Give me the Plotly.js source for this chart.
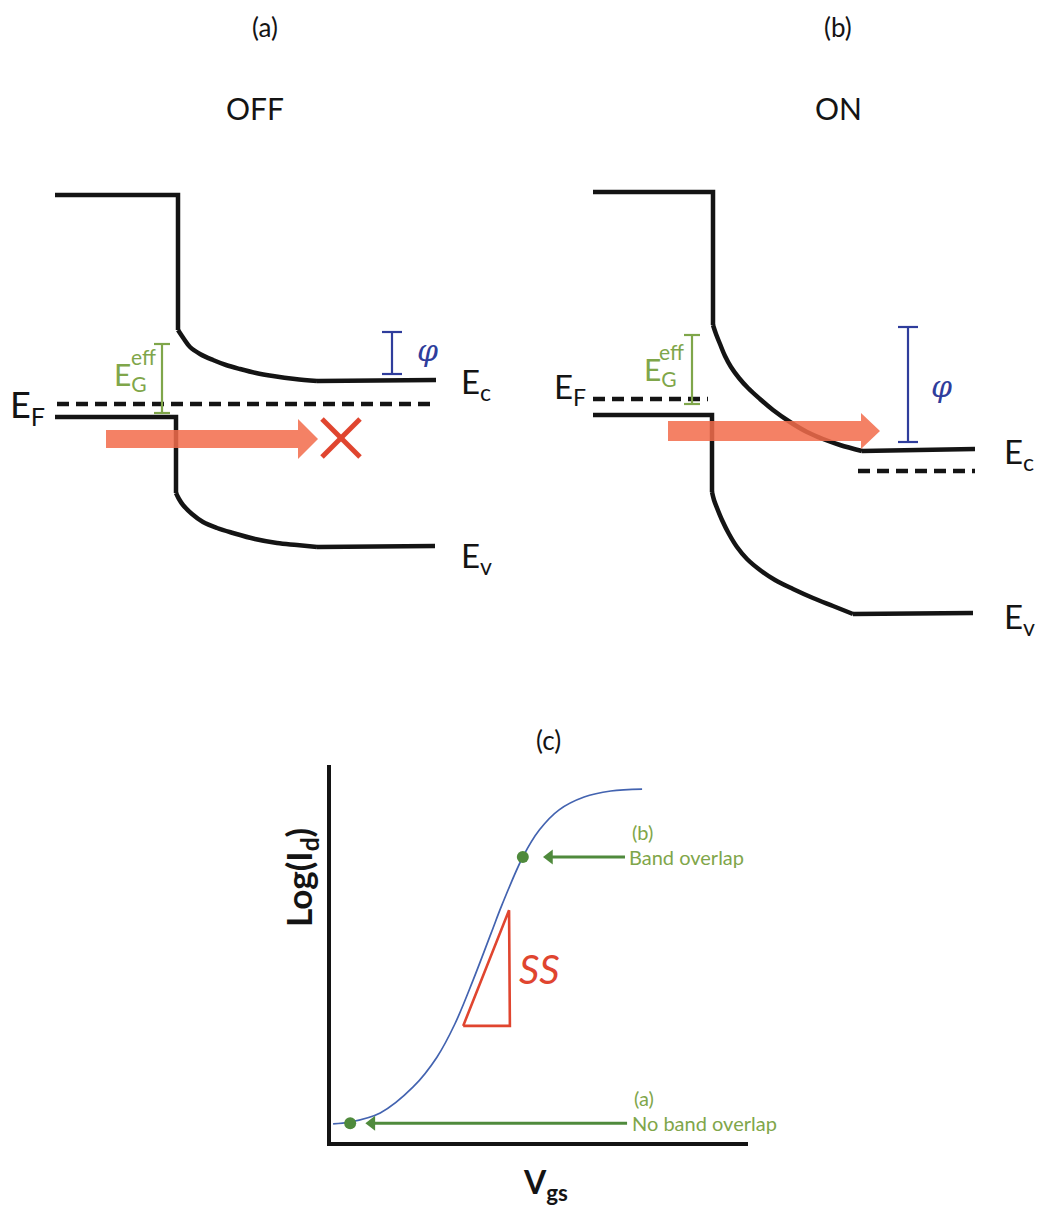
<!DOCTYPE html>
<html>
<head>
<meta charset="utf-8">
<script src="https://cdn.plot.ly/plotly-3.0.1.min.js"></script>
<style>
  html, body { margin: 0; padding: 0; background: #fff; }
  #fig { width: 1039px; height: 1210px; }
</style>
</head>
<body>
<div id="fig"></div>
<script>
// ---------- Band diagrams (a) OFF and (b) ON, in drawing units (y grows downward) ----------
// (a) conduction-band edge: source plateau, step, band bending, channel plateau
const offEcX = [55, 178, 178, 184, 190, 200, 213, 226, 240, 256, 273, 295, 317, 436];
const offEcY = [195, 195, 330, 339, 347, 354, 360, 365, 369, 373, 376, 379, 381, 380];
// (a) valence-band edge
const offEvX = [55, 176, 176, 179, 183, 192, 203, 217, 233, 255, 277, 297, 317, 435];
const offEvY = [417, 417, 493, 499, 505, 514, 522, 528, 533, 539, 543, 545, 547, 546];
// (a) Fermi level (dashed)
const offEfX = [57, 436];
const offEfY = [404, 404];

// (b) conduction-band edge
const onEcX = [593, 713, 713, 716, 720, 725, 731, 739, 748, 760, 773, 790, 807, 823, 840, 862, 975];
const onEcY = [192, 192, 325, 334, 344, 356, 367, 378, 388, 399, 410, 422, 432, 439, 445, 451, 449];
// (b) valence-band edge
const onEvX = [593, 712, 712, 714, 717, 722, 729, 737, 747, 760, 775, 793, 813, 833, 853, 973];
const onEvY = [415, 415, 492, 500, 508, 520, 534, 547, 559, 570, 580, 589, 598, 606, 614, 613];
// (b) Fermi levels (dashed): source side and channel side
const onEfSrcX = [593, 708];
const onEfSrcY = [399, 399];
const onEfChX = [858, 975];
const onEfChY = [471, 471];

// Effective gap markers (green) and barrier markers (blue), one per panel
const gapBarX = [162, 692];
const gapBarTop = [344, 335];
const gapBarBot = [413, 404];
const phiBarX = [392, 908];
const phiBarTop = [332, 327];
const phiBarBot = [374, 442];

// Tunnelling arrows: tail, tip, level
const tunnelTail = [106, 668];
const tunnelTip = [318, 880];
const tunnelLevel = [439, 431];

// Blocked-tunnelling cross in (a): centre
const crossX = [341];
const crossY = [438];

// ---------- (c) transfer curve ----------
const vgs   = [0.05, 0.46, 1.18, 1.97, 2.54, 2.97, 3.41, 3.84, 4.10, 4.60, 5.00, 5.47, 6.07, 6.71, 7.46];
const logId = [0.48, 0.53, 0.77, 1.46, 2.25, 3.13, 4.30, 5.54, 6.29, 7.56, 8.28, 8.81, 9.15, 9.31, 9.36];
// operating points (a) OFF and (b) ON
const opVgs   = [0.46, 4.60];
const opLogId = [0.50, 7.56];
const opLabel = ['(a)', '(b)'];
const opText  = ['No band overlap', 'Band overlap'];
const opArrowTail = [7.10, 7.05];
const opArrowTip  = [0.82, 5.08];
// subthreshold-swing triangle
const ssVgs   = [3.17, 4.29, 4.27, 3.17];
const ssLogId = [3.08, 3.08, 6.15, 3.08];

// ---------- styles ----------
const BLACK = '#141414';
const GREEN_TXT = '#7fa64a';
const GREEN_MARK = '#4f8a3c';
const BLUE = '#2f3d9c';
const RED_ARROW = 'rgba(242,108,76,0.86)';
const RED = '#e0452f';
const CURVE_BLUE = '#4363b0';
const FONT = 'Lato, "Open Sans", sans-serif';
const BAND_W = 4.5;

const traces = [];
function path(xs, ys, color, width, dash, shape) {
  traces.push({
    type: 'scatter', mode: 'lines', x: xs, y: ys, xaxis: 'x', yaxis: 'y',
    line: { color: color, width: width, dash: dash || 'solid', shape: shape || 'linear', smoothing: 1 },
    hoverinfo: 'skip', showlegend: false
  });
}
// a band edge: straight plateau + step, smooth bending region, straight plateau
function band(xs, ys, bendEnd) {
  path(xs.slice(0, 3), ys.slice(0, 3), BLACK, BAND_W);
  path(xs.slice(2, bendEnd + 1), ys.slice(2, bendEnd + 1), BLACK, BAND_W, null, 'spline');
  path(xs.slice(bendEnd), ys.slice(bendEnd), BLACK, BAND_W);
}

band(offEcX, offEcY, offEcX.length - 2);
band(offEvX, offEvY, offEvX.length - 2);
path(offEfX, offEfY, BLACK, BAND_W, '12px,7px');
band(onEcX, onEcY, onEcX.length - 2);
band(onEvX, onEvY, onEvX.length - 2);
path(onEfSrcX, onEfSrcY, BLACK, BAND_W, '12px,7px');
path(onEfChX, onEfChY, BLACK, BAND_W, '12px,7px');

// tunnelling arrows (filled, translucent, drawn over the bands)
const SHAFT_HALF = [9, 10], HEAD_HALF = [20, 18], HEAD_LEN = [20, 19];
tunnelTail.forEach((t, i) => {
  const tip = tunnelTip[i], y = tunnelLevel[i];
  const hb = tip - HEAD_LEN[i];
  traces.push({
    type: 'scatter', mode: 'lines', xaxis: 'x', yaxis: 'y',
    x: [t, hb, hb, tip, hb, hb, t, t],
    y: [y - SHAFT_HALF[i], y - SHAFT_HALF[i], y - HEAD_HALF[i], y, y + HEAD_HALF[i], y + SHAFT_HALF[i], y + SHAFT_HALF[i], y - SHAFT_HALF[i]],
    fill: 'toself', fillcolor: RED_ARROW, line: { width: 0, color: RED_ARROW },
    hoverinfo: 'skip', showlegend: false
  });
});

// cross marking the blocked path
crossX.forEach((cx, i) => {
  const cy = crossY[i], h = 19;
  path([cx - h, cx + h], [cy - h, cy + h], RED, 5);
  path([cx - h, cx + h], [cy + h, cy - h], RED, 5);
});

// bracket bars (vertical span with end caps)
function bracket(x, top, bot, cap, color, w) {
  path([x - cap, x + cap, null, x, x, null, x - cap, x + cap],
       [top, top, null, top, bot, null, bot, bot], color, w);
}
gapBarX.forEach((x, i) => bracket(x, gapBarTop[i], gapBarBot[i], 8, GREEN_TXT, 2.2));
phiBarX.forEach((x, i) => bracket(x, phiBarTop[i], phiBarBot[i], 10, BLUE, 2.2));

// (c) transfer characteristic
traces.push({
  type: 'scatter', mode: 'lines', x: vgs, y: logId, xaxis: 'x2', yaxis: 'y2',
  line: { color: CURVE_BLUE, width: 1.7, shape: 'spline', smoothing: 1 },
  hoverinfo: 'skip', showlegend: false
});
traces.push({
  type: 'scatter', mode: 'lines', x: ssVgs, y: ssLogId, xaxis: 'x2', yaxis: 'y2',
  line: { color: RED, width: 2.6 }, hoverinfo: 'skip', showlegend: false
});
// pointer arrows to the operating points
opVgs.forEach((v, i) => {
  traces.push({
    type: 'scatter', mode: 'lines', x: [opArrowTail[i], opArrowTip[i] + 0.2], y: [opLogId[i], opLogId[i]],
    xaxis: 'x2', yaxis: 'y2', line: { color: GREEN_MARK, width: 3 }, hoverinfo: 'skip', showlegend: false
  });
  traces.push({
    type: 'scatter', mode: 'markers', x: [opArrowTip[i] + 0.16], y: [opLogId[i]],
    xaxis: 'x2', yaxis: 'y2', marker: { symbol: 'triangle-left', size: 13, color: GREEN_MARK },
    hoverinfo: 'skip', showlegend: false
  });
});
traces.push({
  type: 'scatter', mode: 'markers', x: opVgs, y: opLogId, xaxis: 'x2', yaxis: 'y2',
  marker: { color: GREEN_MARK, size: 12 }, hoverinfo: 'skip', showlegend: false
});

// ---------- text ----------
const ann = [];
function txt(x, y, text, size, opts) {
  ann.push(Object.assign({
    x: x, y: y, xref: 'x', yref: 'y', text: text, showarrow: false,
    xanchor: 'center', yanchor: 'middle',
    font: { family: FONT, size: size, color: BLACK }
  }, opts || {}));
}
txt(265, 27, '(a)', 26);
txt(838, 27, '(b)', 26);
txt(255, 108, 'OFF', 30);
txt(838, 108, 'ON', 30);
txt(548, 740, '(c)', 26);

// band labels
txt(8, 406, 'E<sub>F</sub>', 36, { xanchor: 'left' });
txt(459, 383, 'E<sub>c</sub>', 33, { xanchor: 'left' });
txt(459, 557, 'E<sub>v</sub>', 33, { xanchor: 'left' });
txt(552, 388, 'E<sub>F</sub>', 33, { xanchor: 'left' });
txt(1002, 453, 'E<sub>c</sub>', 33, { xanchor: 'left' });
txt(1002, 618, 'E<sub>v</sub>', 33, { xanchor: 'left' });

// effective-gap labels
const gapLblX = [112, 642], gapLblY = [376, 371], effX = [129, 657], effY = [356, 351];
gapLblX.forEach((x, i) => {
  txt(x, gapLblY[i], 'E<sub>G</sub>', 30, { xanchor: 'left', font: { family: FONT, size: 30, color: GREEN_TXT } });
  txt(effX[i], effY[i], 'eff', 21, { xanchor: 'left', font: { family: FONT, size: 21, color: GREEN_TXT } });
});
// barrier labels
const phiLblX = [427, 941], phiLblY = [350, 386];
phiLblX.forEach((x, i) => txt(x, phiLblY[i], '<i>φ</i>', 30, { font: { family: '"DejaVu Serif", serif', size: 30, color: BLUE } }));

// (c) labels
txt(300, 878, '<b>Log(I<sub>d</sub>)</b>', 35, { textangle: -90 });
txt(545, 1184, '<b>V<sub>gs</sub></b>', 32);
ann.push({
  x: 5.0, y: 4.6, xref: 'x2', yref: 'y2', text: '<i>SS</i>', showarrow: false,
  xanchor: 'center', yanchor: 'middle', font: { family: FONT, size: 40, color: RED }
});
opVgs.forEach((v, i) => {
  ann.push({
    x: opArrowTail[i] + 0.12, y: opLogId[i] + 0.66, xref: 'x2', yref: 'y2', text: opLabel[i],
    showarrow: false, xanchor: 'left', yanchor: 'middle', font: { family: FONT, size: 20, color: GREEN_TXT }
  });
  ann.push({
    x: opArrowTail[i] + 0.06, y: opLogId[i], xref: 'x2', yref: 'y2', text: opText[i],
    showarrow: false, xanchor: 'left', yanchor: 'middle', font: { family: FONT, size: 20, color: GREEN_TXT }
  });
});

const W = 1039, H = 1210;
const layout = {
  width: W, height: H,
  margin: { l: 0, r: 0, t: 0, b: 0 },
  paper_bgcolor: '#fff', plot_bgcolor: 'rgba(0,0,0,0)',
  showlegend: false,
  xaxis: { domain: [0, 1], range: [0, W], visible: false, fixedrange: true },
  yaxis: { domain: [0, 1], range: [H, 0], visible: false, fixedrange: true },
  xaxis2: {
    domain: [331 / W, 748 / W], range: [0, 10], anchor: 'y2',
    showline: true, linecolor: BLACK, linewidth: 4, mirror: false,
    showgrid: false, zeroline: false, showticklabels: false, ticks: ''
  },
  yaxis2: {
    domain: [1 - 1142 / H, 1 - 765 / H], range: [0, 10], anchor: 'x2',
    showline: true, linecolor: BLACK, linewidth: 4, mirror: false,
    showgrid: false, zeroline: false, showticklabels: false, ticks: ''
  },
  annotations: ann
};

Plotly.newPlot('fig', traces, layout, { staticPlot: true, displayModeBar: false });
</script>
</body>
</html>
